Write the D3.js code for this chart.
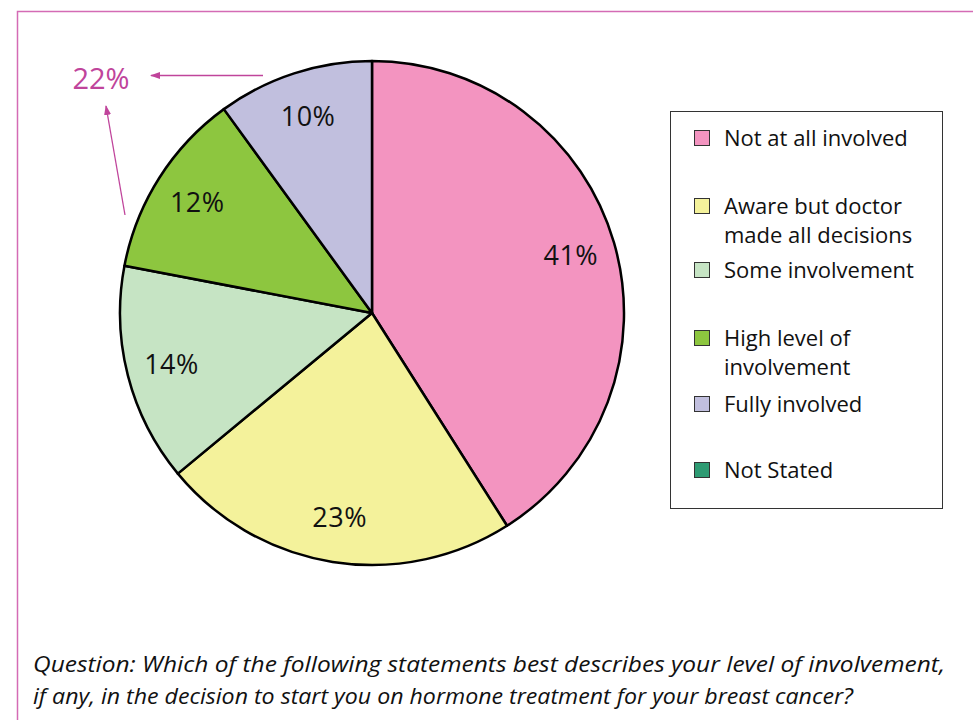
<!DOCTYPE html>
<html><head><meta charset="utf-8">
<script src="https://cdn.jsdelivr.net/npm/d3@7"></script>
<style>body{margin:0;background:#fff}svg{display:block}</style>
</head><body>
<svg id="c" width="973" height="720"></svg>
<script>
const categories = ["Not at all involved","Aware but doctor made all decisions","Some involvement","High level of involvement","Fully involved","Not Stated"];
const legendLines = [["Not at all involved"],["Aware but doctor","made all decisions"],["Some involvement"],["High level of","involvement"],["Fully involved"],["Not Stated"]];
const values = [41,23,14,12,10,0];
const colors = ["#f394c0","#f4f29b","#c6e4c4","#8dc63f","#c1bfde","#2e9b73"];
const annotationText = "22%";
const captionLines = ["Question: Which of the following statements best describes your level of involvement,",
  "if any, in the decision to start you on hormone treatment for your breast cancer?"];

const svg = d3.select("#c");
const font = "'Open Sans', Lato, sans-serif";
const accent = "#c0449b";

// frame
svg.append("path").attr("d","M17.5,720 L17.5,11.5 L973,11.5").attr("fill","none").attr("stroke","#d46bb5").attr("stroke-width",1.5);

const cx = 372, cy = 313, R = 252;
const pie = d3.pie().sort(null).value(d=>d)(values);
const arc = d3.arc().innerRadius(0).outerRadius(R);
const labelArc = d3.arc().innerRadius(207).outerRadius(207);
const g = svg.append("g").attr("transform",`translate(${cx},${cy})`);
g.selectAll("path").data(pie.filter(d=>d.value>0)).join("path")
  .attr("d",arc).attr("fill",(d)=>colors[d.index]).attr("stroke","#000").attr("stroke-width",2.5).attr("stroke-linejoin","round");
g.selectAll("text").data(pie.filter(d=>d.value>0)).join("text")
  .attr("transform",d=>`translate(${labelArc.centroid(d)})`)
  .attr("text-anchor","middle").attr("dy","0.36em")
  .attr("font-family",font).attr("font-size",27).attr("letter-spacing",0.5).attr("fill","#111")
  .text(d=>d.value+"%");

// annotation
const defs = svg.append("defs");
defs.append("marker").attr("id","ah").attr("viewBox","0 0 10 10").attr("refX",9).attr("refY",5)
  .attr("markerWidth",10).attr("markerHeight",10).attr("orient","auto-start-reverse").attr("markerUnits","userSpaceOnUse")
  .append("path").attr("d","M0,1.5 L10,5 L0,8.5 Z").attr("fill",accent);
svg.append("line").attr("x1",263).attr("y1",75.5).attr("x2",151).attr("y2",75.5)
  .attr("stroke",accent).attr("stroke-width",1.3).attr("marker-end","url(#ah)");
svg.append("line").attr("x1",125).attr("y1",215).attr("x2",106).attr("y2",106)
  .attr("stroke",accent).attr("stroke-width",1.3).attr("marker-end","url(#ah)");
svg.append("text").attr("x",101).attr("y",89).attr("text-anchor","middle")
  .attr("font-family",font).attr("font-size",29).attr("fill",accent).text(annotationText);

// legend
svg.append("rect").attr("x",670.5).attr("y",111.5).attr("width",272).attr("height",397)
  .attr("fill","#fff").attr("stroke","#333").attr("stroke-width",1);
const rowY = [138,206,270,338,404,470];
const lg = svg.append("g");
categories.forEach((c,i)=>{
  lg.append("rect").attr("x",694.5).attr("y",rowY[i]-7.5).attr("width",15).attr("height",15)
    .attr("fill",colors[i]).attr("stroke","#333").attr("stroke-width",1);
  legendLines[i].forEach((ln,j)=>{
    lg.append("text").attr("x",724).attr("y",rowY[i]+j*29).attr("dy","0.36em")
      .attr("font-family",font).attr("font-size",22).attr("fill","#111").text(ln);
  });
});

// caption
captionLines.forEach((t,i)=>{
  svg.append("text").attr("x",33).attr("y",672+i*32)
    .attr("font-family",font).attr("font-style","italic").attr("font-size",22)
    .attr("textLength", i===0?912:820).attr("lengthAdjust","spacingAndGlyphs")
    .attr("fill","#111").text(t);
});
</script>
</body></html>
